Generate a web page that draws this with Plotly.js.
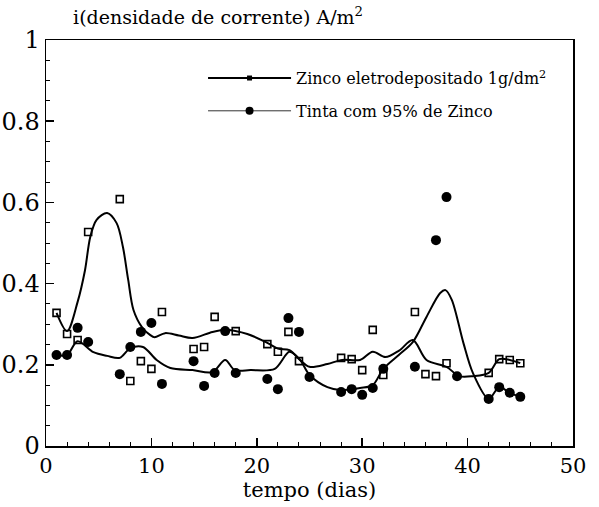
<!DOCTYPE html>
<html>
<head>
<meta charset="utf-8">
<script src="https://cdn.plot.ly/plotly-3.0.1.min.js"></script>
<style>html,body{margin:0;padding:0;background:#fff;}#chart{width:599px;height:507px;}</style>
</head>
<body>
<div id="chart"></div>
<script>
// Measured points: Zinco eletrodepositado (open squares)
const zincoDays = [1, 2, 3, 4, 7, 8, 9, 10, 11, 14, 15, 16, 18, 21, 22, 23, 24, 28, 29, 30, 31, 32, 35, 36, 37, 38, 42, 43, 44, 45];
const zincoI    = [0.328, 0.276, 0.261, 0.527, 0.608, 0.160, 0.209, 0.190, 0.330, 0.239, 0.244, 0.318, 0.283, 0.251, 0.232, 0.281, 0.209, 0.217, 0.214, 0.187, 0.286, 0.175, 0.330, 0.177, 0.172, 0.204, 0.180, 0.214, 0.212, 0.204];

// Measured points: Tinta com 95% de Zinco (filled circles)
const tintaDays = [1, 2, 3, 4, 7, 8, 9, 10, 11, 14, 15, 16, 17, 18, 21, 22, 23, 24, 25, 28, 29, 30, 31, 32, 35, 37, 38, 39, 42, 43, 44, 45];
const tintaI    = [0.224, 0.224, 0.291, 0.256, 0.177, 0.244, 0.281, 0.303, 0.153, 0.209, 0.148, 0.180, 0.283, 0.180, 0.165, 0.140, 0.315, 0.281, 0.170, 0.133, 0.140, 0.126, 0.143, 0.190, 0.195, 0.507, 0.613, 0.172, 0.116, 0.145, 0.131, 0.121];

// Smoothed curves
const zincoCurveX = [1, 2, 3, 3.7, 4.2, 4.8, 5.8, 6.7, 7.3, 7.8, 8.3, 9.1, 9.9, 10.3, 11.3, 12.6, 13.9, 15.8, 17.2, 19.1, 21.0, 22.0, 23.1, 24.1, 25.0, 26.7, 28.1, 29.8, 31.0, 32.2, 33.5, 34.8, 36.1, 38.0, 39.2, 40.5, 42, 43, 44, 45];
const zincoCurveY = [0.328, 0.283, 0.355, 0.433, 0.515, 0.557, 0.574, 0.549, 0.490, 0.409, 0.335, 0.293, 0.273, 0.268, 0.278, 0.272, 0.266, 0.281, 0.286, 0.276, 0.254, 0.240, 0.236, 0.212, 0.195, 0.202, 0.212, 0.212, 0.232, 0.219, 0.235, 0.261, 0.212, 0.195, 0.172, 0.172, 0.180, 0.214, 0.212, 0.204];

const tintaCurveX = [1, 2, 3, 4.5, 5.8, 7, 8, 9.2, 10.5, 11.8, 13.9, 15.8, 17, 17.9, 19.4, 21.7, 23.1, 24.1, 25, 26.7, 27.9, 29.8, 31, 32, 33.5, 34.8, 36.1, 37.4, 37.9, 38.5, 39.6, 40.5, 42, 43, 44, 45];
const tintaCurveY = [0.224, 0.224, 0.258, 0.231, 0.222, 0.217, 0.241, 0.244, 0.212, 0.192, 0.187, 0.182, 0.212, 0.187, 0.187, 0.190, 0.232, 0.212, 0.175, 0.145, 0.138, 0.143, 0.150, 0.190, 0.225, 0.256, 0.318, 0.377, 0.384, 0.360, 0.254, 0.180, 0.116, 0.145, 0.131, 0.121];

const seriesNames = ["Zinco eletrodepositado 1g/dm<sup>2</sup>", "Tinta com 95% de Zinco"];

const serif = "DejaVu Serif";

const traces = [
  {x: zincoCurveX, y: zincoCurveY, mode: "lines", line: {color: "#000", width: 2, shape: "spline", smoothing: 0.9}, showlegend: false, hoverinfo: "skip"},
  {x: tintaCurveX, y: tintaCurveY, mode: "lines", line: {color: "#000", width: 2, shape: "spline", smoothing: 0.9}, showlegend: false, hoverinfo: "skip"},
  {x: zincoDays, y: zincoI, mode: "markers", marker: {symbol: "square-open", size: 7, color: "#000", line: {width: 1.6, color: "#000"}}, showlegend: false},
  {x: tintaDays, y: tintaI, mode: "markers", marker: {symbol: "circle", size: 10, color: "#000"}, showlegend: false},
  {x: [null], y: [null], mode: "lines+markers", name: seriesNames[0], legendgroup: "a", line: {color: "#000", width: 2}, marker: {symbol: "square", size: 5, color: "#000"}},
  {x: [null], y: [null], mode: "lines+markers", name: seriesNames[1], legendgroup: "b", line: {color: "#333", width: 1}, marker: {symbol: "circle", size: 8, color: "#000"}}
];

const layout = {
  width: 599, height: 507,
  margin: {l: 46, r: 26, t: 40, b: 61},
  paper_bgcolor: "#fff", plot_bgcolor: "#fff",
  font: {family: serif, color: "#000", size: 18},
  title: {text: "i(densidade de corrente) A/m<sup>2</sup>", font: {family: serif, size: 19, color: "#000"}, xref: "container", yref: "container", x: 0.122, xanchor: "left", y: 0.966, yanchor: "middle"},
  showlegend: true,
  legend: {x: 0.298, y: 0.948, xanchor: "left", yanchor: "top", font: {family: serif, size: 16, color: "#000"}, bgcolor: "rgba(0,0,0,0)", itemwidth: 83, traceorder: "grouped", tracegroupgap: 9},
  xaxis: {
    range: [0, 50], dtick: 10, tick0: 0,
    ticks: "inside", ticklen: 8, tickwidth: 1.5, tickcolor: "#000",
    minor: {dtick: 2, ticks: "inside", ticklen: 4, tickwidth: 1, tickcolor: "#000", showgrid: false},
    showline: true, linecolor: "#000", linewidth: 1.5, mirror: true,
    showgrid: false, zeroline: false,
    tickfont: {family: serif, size: 21, color: "#000"},
    title: {text: "tempo (dias)", font: {family: serif, size: 21, color: "#000"}, standoff: 4}
  },
  yaxis: {
    range: [0, 1], dtick: 0.2, tick0: 0,
    ticks: "inside", ticklen: 8, tickwidth: 1.5, tickcolor: "#000",
    minor: {dtick: 0.05, ticks: "inside", ticklen: 4, tickwidth: 1, tickcolor: "#000", showgrid: false},
    showline: true, linecolor: "#000", linewidth: 1.5, mirror: true,
    showgrid: false, zeroline: false,
    tickfont: {family: serif, size: 24, color: "#000"}
  }
};

Plotly.newPlot("chart", traces, layout, {displayModeBar: false, staticPlot: true});
</script>
</body>
</html>
